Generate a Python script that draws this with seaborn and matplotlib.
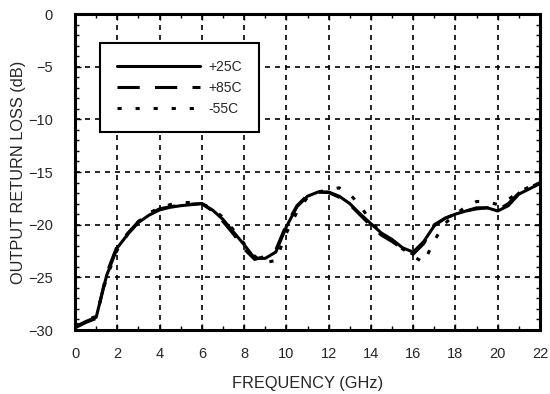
import matplotlib
matplotlib.use("Agg")
import matplotlib.pyplot as plt
from matplotlib.lines import Line2D
import numpy as np
import pandas as pd
import seaborn as sns

# Frequency sweep (GHz)
freq = [0.0, 0.5, 1.0, 1.5, 2.0, 2.5, 3.0, 3.5, 4.0, 4.5, 5.0, 5.5, 6.0, 6.5,
        7.0, 7.5, 8.0, 8.5, 9.0, 9.5, 10.0, 10.5, 11.0, 11.5, 12.0, 12.5, 13.0,
        13.5, 14.0, 14.5, 15.0, 15.5, 16.0, 16.5, 17.0, 17.5, 18.0, 18.5, 19.0,
        19.5, 20.0, 20.5, 21.0, 21.5, 22.0]

# Output return loss (dB) at each temperature
rl_p25 = [-29.7, -29.2, -28.8, -24.8, -22.2, -20.9, -19.8, -19.1, -18.6, -18.35,
          -18.2, -18.1, -18.0, -18.6, -19.5, -20.7, -21.9, -23.2, -23.2, -22.6,
          -20.2, -18.3, -17.3, -16.9, -16.9, -17.3, -18.0, -19.0, -19.9, -20.8,
          -21.4, -22.2, -22.6, -21.6, -20.1, -19.4, -19.0, -18.7, -18.5, -18.4,
          -18.7, -18.2, -17.1, -16.6, -16.1]
rl_p85 = [-29.8, -29.3, -28.9, -24.6, -22.0, -20.8, -19.7, -19.0, -18.5, -18.3,
          -18.15, -18.05, -18.0, -18.7, -19.7, -20.9, -22.3, -23.3, -23.0, -22.4,
          -20.0, -18.2, -17.2, -16.9, -16.95, -17.4, -18.1, -19.1, -20.1, -21.0,
          -21.6, -22.3, -22.8, -21.8, -20.0, -19.4, -19.0, -18.7, -18.4, -18.4,
          -18.6, -18.0, -17.0, -16.5, -16.0]
rl_m55 = [-29.6, -29.1, -28.7, -25.0, -22.4, -20.9, -19.7, -18.9, -18.4, -18.1,
          -17.9, -17.9, -18.0, -18.5, -19.3, -20.5, -21.8, -23.0, -23.6, -23.4,
          -20.8, -18.8, -17.4, -16.9, -16.7, -16.5, -17.1, -18.2, -19.7, -20.8,
          -21.6, -22.3, -23.0, -23.6, -21.5, -19.9, -19.0, -18.3, -17.8, -17.8,
          -18.1, -17.6, -16.9, -16.4, -16.1]
series_names = ["+25C", "+85C", "-55C"]

x_ticks = list(range(0, 23, 2))
y_ticks = list(range(-30, 1, 5))

sns.set_theme(style="white")
plt.rcParams["font.family"] = ["Liberation Sans", "DejaVu Sans"]
plt.rcParams["lines.scale_dashes"] = False

df = pd.DataFrame({
    "freq": freq * 3,
    "rl": rl_p25 + rl_p85 + rl_m55,
    "temp": [n for n in series_names for _ in freq],
})

fig = plt.figure(figsize=(5.5, 3.94), dpi=100)
ax = fig.add_axes([75 / 550, 1 - 330 / 394, 465 / 550, 316 / 394])

styles = {
    "+25C": dict(linestyle="-"),
    "+85C": dict(dashes=(16, 11)),
    "-55C": dict(dashes=(3, 10)),
}
lw = 2.2
for name in series_names:
    sub = df[df["temp"] == name]
    sns.lineplot(data=sub, x="freq", y="rl", ax=ax, color="black", lw=lw,
                 legend=False, **styles[name])

ax.set_xlim(0, 22)
ax.set_ylim(-30, 0)
ax.set_xticks(x_ticks)
ax.set_yticks(y_ticks)
ax.set_xticks(np.arange(0, 23, 1), minor=True)
ax.set_yticks(np.arange(-30, 1, 1), minor=True)
ax.tick_params(which="both", direction="in", top=True, right=True,
               bottom=True, left=True, color="black")
ax.tick_params(which="major", length=4, width=1)
ax.tick_params(which="minor", length=3, width=1)
ax.tick_params(axis="x", which="major", pad=12, labelsize=10.5)
ax.tick_params(axis="y", which="major", pad=16, labelsize=10.5)

ax.grid(True, which="major", color="black", lw=1.2, dashes=(3.6, 3.6))
for s in ax.spines.values():
    s.set_color("black")
    s.set_linewidth(2.2)

ax.set_xlabel("FREQUENCY (GHz)", fontsize=11.8, labelpad=11)
ax.set_ylabel("OUTPUT RETURN LOSS (dB)", fontsize=11.8)
ax.yaxis.set_label_coords(-0.106, 0.5)

handles = [
    Line2D([], [], color="black", lw=lw, linestyle="-"),
    Line2D([], [], color="black", lw=lw, dashes=(16, 11)),
    Line2D([], [], color="black", lw=lw, dashes=(3, 10)),
]
leg = ax.legend(handles, series_names, loc="upper left",
                bbox_to_anchor=(0.054, 0.908), fontsize=10, handlelength=6,
                frameon=True, fancybox=False, borderpad=1.2, labelspacing=0.5,
                handletextpad=0.6, borderaxespad=0)
leg.get_frame().set_edgecolor("black")
leg.get_frame().set_linewidth(1.5)
leg.get_frame().set_alpha(1)

fig.savefig("out.png", dpi=100)
